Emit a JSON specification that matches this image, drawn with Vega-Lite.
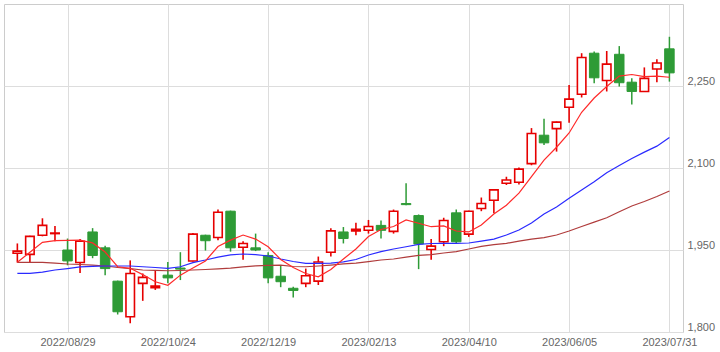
{
  "$schema": "https://vega.github.io/schema/vega-lite/v6.json",
  "width": 679,
  "height": 328,
  "autosize": {"type": "none"},
  "padding": {"left": 4, "top": 4, "right": 37, "bottom": 20},
  "background": "white",
  "view": {"stroke": "#cccccc", "strokeWidth": 1},
  "config": {
    "axis": {"labelFont": "Liberation Sans", "labelFontSize": 11, "labelColor": "#666666", "gridColor": "#dddddd", "gridWidth": 1, "ticks": false, "domain": false, "title": null}
  },
  "data": {"values": [
    {"d":"2022-08-01","o":1944,"h":1962,"l":1927,"c":1948,"r":1927.5,"b":1907.4,"m":1927.5},
    {"d":"2022-08-08","o":1942,"h":1976,"l":1926,"c":1975,"r":1945.8,"b":1907.4,"m":1927.5},
    {"d":"2022-08-15","o":1977,"h":2008,"l":1975,"c":1995,"r":1964,"b":1909.7,"m":1927.5},
    {"d":"2022-08-22","o":1980,"h":1994,"l":1966,"c":1981,"r":1967,"b":1913.4,"m":1926},
    {"d":"2022-08-29","o":1950,"h":1971,"l":1922,"c":1930,"r":1967.7,"b":1916,"m":1924.4},
    {"d":"2022-09-05","o":1927,"h":1970,"l":1908,"c":1966,"r":1968,"b":1919,"m":1923.5},
    {"d":"2022-09-12","o":1983,"h":1990,"l":1935,"c":1940,"r":1963,"b":1920,"m":1922.5},
    {"d":"2022-09-19","o":1954,"h":1958,"l":1904,"c":1916,"r":1946.3,"b":1920.7,"m":1920.7},
    {"d":"2022-09-26","o":1893,"h":1894,"l":1832,"c":1837,"r":1919.4,"b":1920.7,"m":1918},
    {"d":"2022-10-03","o":1828,"h":1931,"l":1816,"c":1907,"r":1916.5,"b":1920.7,"m":1915.8},
    {"d":"2022-10-10","o":1889,"h":1907,"l":1857,"c":1900,"r":1905,"b":1919.4,"m":1913.4},
    {"d":"2022-10-17","o":1881,"h":1912,"l":1877,"c":1884,"r":1892,"b":1918,"m":1912.7},
    {"d":"2022-10-24","o":1904,"h":1928,"l":1889,"c":1899,"r":1885.4,"b":1916.5,"m":1912},
    {"d":"2022-10-31","o":1917,"h":1946,"l":1895,"c":1915,"r":1904,"b":1919.4,"m":1912.5},
    {"d":"2022-11-07","o":1930,"h":1981,"l":1929,"c":1979,"r":1917,"b":1927,"m":1913.4},
    {"d":"2022-11-14","o":1977,"h":1978,"l":1949,"c":1967,"r":1930,"b":1931.7,"m":1914.3},
    {"d":"2022-11-21","o":1973,"h":2024,"l":1968,"c":2019,"r":1956.4,"b":1937,"m":1915.6},
    {"d":"2022-11-28","o":2021,"h":2022,"l":1947,"c":1954,"r":1968,"b":1941,"m":1917},
    {"d":"2022-12-05","o":1955,"h":1966,"l":1932,"c":1962,"r":1977.4,"b":1942.7,"m":1919},
    {"d":"2022-12-12","o":1954,"h":1980,"l":1948,"c":1950,"r":1970,"b":1941.7,"m":1921},
    {"d":"2022-12-19","o":1940,"h":1946,"l":1889,"c":1899,"r":1956,"b":1939,"m":1922},
    {"d":"2022-12-26","o":1902,"h":1921,"l":1882,"c":1892,"r":1932.6,"b":1933.5,"m":1922.5},
    {"d":"2023-01-02","o":1880,"h":1883,"l":1863,"c":1876,"r":1918,"b":1929,"m":1919.8},
    {"d":"2023-01-09","o":1889,"h":1916,"l":1882,"c":1903,"r":1907,"b":1925.7,"m":1919.4},
    {"d":"2023-01-16","o":1893,"h":1938,"l":1886,"c":1928,"r":1901,"b":1925.7,"m":1920.7},
    {"d":"2023-01-23","o":1946,"h":1990,"l":1938,"c":1985,"r":1914.3,"b":1926,"m":1922.5},
    {"d":"2023-01-30","o":1983,"h":1992,"l":1962,"c":1971,"r":1933.5,"b":1928.4,"m":1924.7},
    {"d":"2023-02-06","o":1985,"h":2000,"l":1977,"c":1988,"r":1951.8,"b":1932.6,"m":1926},
    {"d":"2023-02-13","o":1986,"h":2005,"l":1980,"c":1993,"r":1974.7,"b":1940.8,"m":1928.6},
    {"d":"2023-02-20","o":1995,"h":2004,"l":1971,"c":1986,"r":1987.5,"b":1946.9,"m":1931.7},
    {"d":"2023-02-27","o":1984,"h":2024,"l":1980,"c":2021,"r":1993,"b":1951.8,"m":1933.5},
    {"d":"2023-03-06","o":2035,"h":2072,"l":2032,"c":2033,"r":2005,"b":1956,"m":1937},
    {"d":"2023-03-13","o":2013,"h":2015,"l":1915,"c":1961,"r":1999,"b":1960.4,"m":1940},
    {"d":"2023-03-20","o":1951,"h":1970,"l":1932,"c":1957,"r":1992.6,"b":1961.9,"m":1941.7},
    {"d":"2023-03-27","o":1965,"h":2009,"l":1957,"c":2004,"r":1994,"b":1962.2,"m":1944.5},
    {"d":"2023-04-03","o":2018,"h":2024,"l":1961,"c":1965,"r":1984.7,"b":1962.2,"m":1947},
    {"d":"2023-04-10","o":1979,"h":2022,"l":1974,"c":2021,"r":1983,"b":1962.8,"m":1951.8},
    {"d":"2023-04-17","o":2026,"h":2046,"l":2021,"c":2035,"r":1995.7,"b":1966.4,"m":1956.7},
    {"d":"2023-04-24","o":2041,"h":2061,"l":2017,"c":2060,"r":2015.8,"b":1970,"m":1960},
    {"d":"2023-05-01","o":2072,"h":2084,"l":2069,"c":2078,"r":2032,"b":1977.4,"m":1962.2},
    {"d":"2023-05-08","o":2074,"h":2101,"l":2070,"c":2098,"r":2054,"b":1986.6,"m":1966.4},
    {"d":"2023-05-15","o":2108,"h":2173,"l":2105,"c":2163,"r":2084.4,"b":1999.4,"m":1970},
    {"d":"2023-05-22","o":2160,"h":2190,"l":2142,"c":2146,"r":2114.6,"b":2015.8,"m":1972.8},
    {"d":"2023-05-29","o":2172,"h":2185,"l":2130,"c":2184,"r":2138,"b":2028.6,"m":1977.4},
    {"d":"2023-06-05","o":2211,"h":2252,"l":2183,"c":2226,"r":2164,"b":2044.5,"m":1984.7},
    {"d":"2023-06-12","o":2235,"h":2310,"l":2229,"c":2302,"r":2202,"b":2059.7,"m":1993},
    {"d":"2023-06-19","o":2310,"h":2313,"l":2255,"c":2265,"r":2228,"b":2075,"m":2001},
    {"d":"2023-06-26","o":2260,"h":2314,"l":2240,"c":2290,"r":2249,"b":2091.4,"m":2009},
    {"d":"2023-07-03","o":2308,"h":2323,"l":2249,"c":2256,"r":2268,"b":2104.5,"m":2020},
    {"d":"2023-07-10","o":2257,"h":2264,"l":2216,"c":2240,"r":2271,"b":2117.3,"m":2030.5},
    {"d":"2023-07-17","o":2240,"h":2284,"l":2239,"c":2264,"r":2267,"b":2129,"m":2038.7},
    {"d":"2023-07-24","o":2281,"h":2299,"l":2257,"c":2292,"r":2268,"b":2140,"m":2047.8},
    {"d":"2023-07-31","o":2318,"h":2340,"l":2258,"c":2274,"r":2266,"b":2156,"m":2058}
  ]},
  "encoding": {
    "x": {
      "field": "d", "type": "temporal",
      "scale": {"type": "utc", "domain": [
        {"year": 2022, "month": 7, "date": 27, "hours": 8, "utc": true},
        {"year": 2023, "month": 8, "date": 4, "hours": 19, "utc": true}
      ]},
      "axis": {
        "values": [
          {"year": 2022, "month": 8, "date": 29, "utc": true},
          {"year": 2022, "month": 10, "date": 24, "utc": true},
          {"year": 2022, "month": 12, "date": 19, "utc": true},
          {"year": 2023, "month": 2, "date": 13, "utc": true},
          {"year": 2023, "month": 4, "date": 10, "utc": true},
          {"year": 2023, "month": 6, "date": 5, "utc": true},
          {"year": 2023, "month": 7, "date": 31, "utc": true}
        ],
        "labelExpr": "utcFormat(datum.value, '%Y/%m/%d')",
        "labelPadding": 4, "labelFlush": false, "labelOverlap": false, "grid": true
      }
    }
  },
  "layer": [
    {
      "mark": {"type": "rule"},
      "encoding": {
        "y": {"field": "l", "type": "quantitative",
          "scale": {"domain": [1800, 2400], "nice": false, "zero": false},
          "axis": {"orient": "right", "values": [1800, 1950, 2100, 2250], "labelExpr": "format(datum.value, ',')", "grid": true, "labelPadding": 4, "labelBaseline": "alphabetic", "labelOffset": -2}},
        "y2": {"field": "h"},
        "color": {"condition": {"test": "datum.c >= datum.o", "value": "#e60000"}, "value": "#2e9b36"},
        "strokeWidth": {"condition": {"test": "datum.c >= datum.o", "value": 1.6}, "value": 1.5}
      }
    },
    {
      "mark": {"type": "bar"},
      "encoding": {
        "y": {"field": "o", "type": "quantitative"},
        "y2": {"field": "c"},
        "size": {"condition": {"test": "datum.c >= datum.o", "value": 8.5}, "value": 9.5},
        "fill": {"condition": {"test": "datum.c >= datum.o", "value": "#ffffff"}, "value": "#2e9b36"},
        "stroke": {"condition": {"test": "datum.c >= datum.o", "value": "#e60000"}, "value": "#2e9b36"},
        "strokeWidth": {"condition": {"test": "datum.c >= datum.o", "value": 1.6}, "value": 1}
      }
    },
    {
      "mark": {"type": "line", "color": "#b03c3c", "strokeWidth": 1.2},
      "encoding": {"y": {"field": "m", "type": "quantitative"}}
    },
    {
      "mark": {"type": "line", "color": "#2a2aff", "strokeWidth": 1.2},
      "encoding": {"y": {"field": "b", "type": "quantitative"}}
    },
    {
      "mark": {"type": "line", "color": "#ff2a2a", "strokeWidth": 1.2},
      "encoding": {"y": {"field": "r", "type": "quantitative"}}
    }
  ]
}
